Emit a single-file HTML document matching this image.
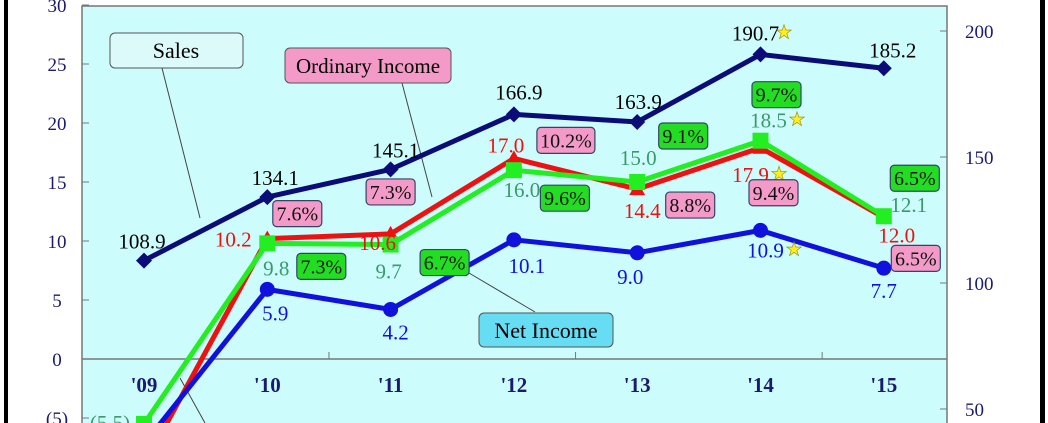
<!DOCTYPE html>
<html><head><meta charset="utf-8"><style>
html,body{margin:0;padding:0;background:#fff;overflow:hidden;}
svg{display:block;font-family:"Liberation Serif",serif;}
</style></head><body>
<svg id="chart" width="1048" height="423" viewBox="0 0 1048 423">
<rect x="4" y="0" width="4" height="423" fill="#000"/>
<rect x="1040" y="0" width="5" height="423" fill="#000"/>
<rect x="82" y="6" width="865" height="420" fill="#ccfcfc" stroke="#777" stroke-width="1.5"/>
<g id="axes"></g>
<g id="leaders" stroke="#444" stroke-width="1">
<line x1="162" y1="68" x2="200" y2="218"/>
<line x1="402" y1="83" x2="432" y2="197"/>
<line x1="535" y1="312" x2="469" y2="273"/>
<line x1="180" y1="378" x2="205" y2="423"/>
</g>
<g id="series"></g>
<g id="labels"></g>
<g><rect x="110" y="33" width="133" height="35" rx="5" fill="#ddfafa" stroke="#555"/><text x="176" y="58" font-size="22" text-anchor="middle">Sales</text></g>
<g><rect x="285" y="48" width="166" height="35" rx="5" fill="#f49ac8" stroke="#555"/><text x="368" y="73" font-size="21" text-anchor="middle">Ordinary Income</text></g>
<g><rect x="479" y="313" width="134" height="34" rx="5" fill="#66ddf2" stroke="#555"/><text x="546" y="338" font-size="22" text-anchor="middle">Net Income</text></g>
</svg>
<script>
const categories=["'09","'10","'11","'12","'13","'14","'15"];
const sales=[108.9,134.1,145.1,166.9,163.9,190.7,185.2];
const ordinary=[-9.0,10.2,10.6,17.0,14.4,17.9,12.0];
const recurring=[-5.5,9.8,9.7,16.0,15.0,18.5,12.1];
const netIncome=[-7.2,5.9,4.2,10.1,9.0,10.9,7.7];
const ordinaryMargin=[null,"7.6%","7.3%","10.2%","8.8%","9.4%","6.5%"];
const recurringMargin=[null,"7.3%","6.7%","9.6%","9.1%","9.7%","6.5%"];
const leftTicks=[30,25,20,15,10,5,0,-5];
const rightTicks=[200,150,100,50];
const starIdx=[5];

const NS="http://www.w3.org/2000/svg";
function X(i){return 144+i*123.3;}
function YL(v){return 359-v*11.8;}
function YR(v){return 31+(200-v)*2.52;}
function mk(tag,attrs,parent){const e=document.createElementNS(NS,tag);for(const k in attrs)e.setAttribute(k,attrs[k]);parent.appendChild(e);return e;}
const axes=document.getElementById('axes'),ser=document.getElementById('series'),lab=document.getElementById('labels');

leftTicks.forEach(t=>{
 const l=mk('line',{x1:82,x2:89,y1:YL(t),y2:YL(t),stroke:'#777'},axes);
 
 
 const tx=mk('text',{x:57,y:YL(t)+7,'font-size':19,fill:'#1a1a6e','text-anchor':'middle'},axes);
 
 
 tx.textContent=t<0?'('+(-t)+')':String(t);
});
rightTicks.forEach(t=>{
 const l=mk('line',{x1:940,x2:947,y1:YR(t),y2:YR(t),stroke:'#777'},axes);
 
 
 const tx=mk('text',{x:965,y:YR(t)+7,'font-size':19,fill:'#1a1a6e'},axes);
 
 
 tx.textContent=String(t);
});
const zl=mk('line',{x1:82,x2:947,y1:YL(0),y2:YL(0),stroke:'#777','stroke-width':1.5},axes);


[1,3,5].forEach(i=>{
 const xx=(X(i)+X(i+1))/2;
 const tk=mk('line',{x1:xx,x2:xx,y1:YL(0)-7,y2:YL(0),stroke:'#777'},axes);
 
 
});
categories.forEach((c,i)=>{
 const t=mk('text',{x:X(i),y:392,'font-size':21,'font-weight':'bold',fill:'#1a1a6e','text-anchor':'middle'},axes);
 
 
 t.textContent=c;
});

function line(vals,yf,color,name,w){
 const p=mk('polyline',{points:vals.map((v,i)=>X(i)+','+yf(v)).join(' '),fill:'none',stroke:color,'stroke-width':w,'stroke-linejoin':'round'},ser);
 
 
}
line(ordinary,YL,'#ee1111','ordinary-income-line',5);
line(recurring,YL,'#22ee22','recurring-income-line',5);
line(netIncome,YL,'#1111dd','net-income-line',5);
line(sales,YR,'#0c0c78','sales-line',5);
ordinary.forEach((v,i)=>{const m=mk('path',{d:`M${X(i)-8},${YL(v)+6}L${X(i)},${YL(v)-8}L${X(i)+8},${YL(v)+6}Z`,fill:'#ee1111'},ser);
 
 });
recurring.forEach((v,i)=>{const m=mk('rect',{x:X(i)-8,y:YL(v)-8,width:16,height:16,fill:'#22ee22'},ser);
 
 });
netIncome.forEach((v,i)=>{const m=mk('circle',{cx:X(i),cy:YL(v),r:7.5,fill:'#1111dd'},ser);
 
 });
sales.forEach((v,i)=>{const m=mk('path',{d:`M${X(i)},${YR(v)-8}L${X(i)+8},${YR(v)}L${X(i)},${YR(v)+8}L${X(i)-8},${YR(v)}Z`,fill:'#0c0c78'},ser);
 
 });

function fmt(v){return v<0?'('+(-v).toFixed(1)+')':v.toFixed(1);}
function star(x,y){const s=mk('text',{x:x,y:y,'font-size':19,fill:'#ffee22',stroke:'#998800','stroke-width':0.6},lab);
 
 
 s.textContent='★';}
function vlabel(vals,yf,off,color,name,fs){
 vals.forEach((v,i)=>{const o=off[i];if(!o)return;
  const t=mk('text',{x:X(i)+o[0],y:yf(v)+o[1],'font-size':fs,fill:color,'text-anchor':'middle'},lab);
  
  
  t.textContent=fmt(v);
  if(starIdx.includes(i))star(X(i)+o[0]+20,yf(v)+o[1]-2);
 });
}
vlabel(sales,YR,[[-2,-12],[8,-12],[5,-12],[5,-15],[1,-13],[-5,-14],[9,-11]],'#000','sales-value-label',21);
vlabel(ordinary,YL,[null,[-34,8],[-13,16],[-8,-6],[5,29],[-10,34],[13,25]],'#ee1111','ordinary-income-value-label',21);
vlabel(recurring,YL,[[-34,6],[9,32],[-2,34],[8,27],[1,-17],[8,-13],[25,-4]],'#3a9a6a','recurring-income-value-label',21);
vlabel(netIncome,YL,[null,[8,31],[5,30],[13,33],[-7,31],[5,27],[0,30]],'#1111dd','net-income-value-label',21);
function boxes(arr,vals,off,fill,name){
 arr.forEach((s,i)=>{if(!s)return;const o=off[i];const cx=X(i)+o[0],cy=YL(vals[i])+o[1];const w=s.length>4?58:49;
  const g=mk('g',{},lab);
  
  
  mk('rect',{x:cx-w/2,y:cy-13,width:w,height:26,rx:4,fill:fill,stroke:'#334466','stroke-width':1.2},g);
  const t=mk('text',{x:cx,y:cy+7,'font-size':20,fill:'#111','text-anchor':'middle'},g);t.textContent=s;});
}
boxes(ordinaryMargin,ordinary,[null,[30,-25],[0,-42],[52,-18],[53,16],[13,45],[32,41]],'#f49ac8','ordinary-margin-box');
boxes(recurringMargin,recurring,[null,[54,23],[54,18],[51,28],[46,-46],[16,-46],[31,-38]],'#22dd22','recurring-margin-box');
</script>
</body></html>
